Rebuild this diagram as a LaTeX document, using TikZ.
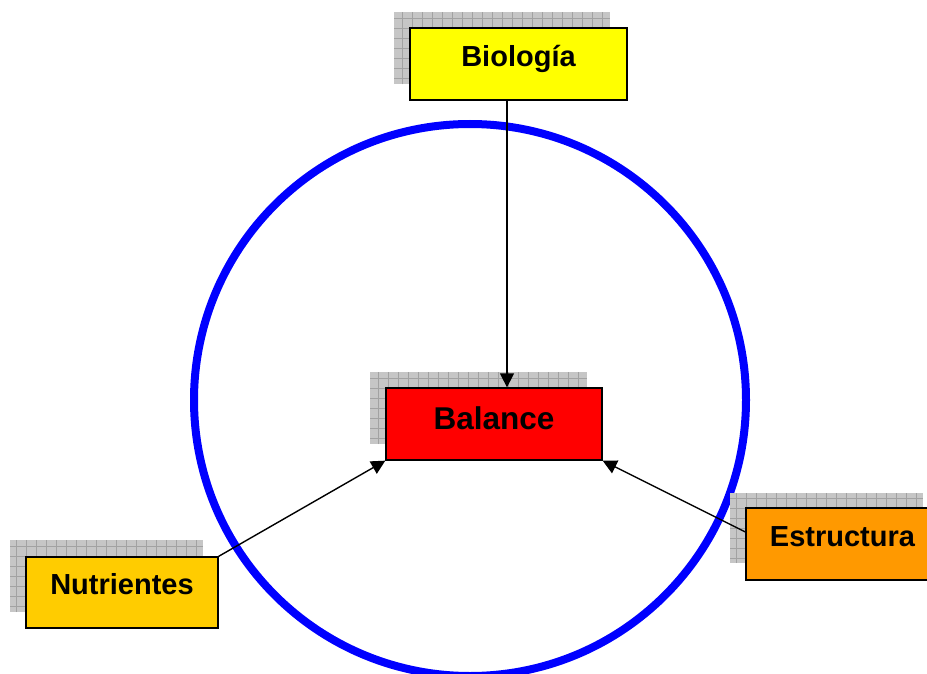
\documentclass[tikz,border=0pt]{standalone}
\usepackage{fontspec}
\setmainfont{Liberation Sans}
\usetikzlibrary{arrows.meta}
\definecolor{shadowfill}{HTML}{C6C6C6}
\definecolor{shadowline}{HTML}{A2A2A2}
\definecolor{bioyellow}{HTML}{FFFF00}
\definecolor{balred}{HTML}{FF0000}
\definecolor{nutgold}{HTML}{FFCC00}
\definecolor{estorange}{HTML}{FF9900}
\definecolor{ringblue}{HTML}{0000FF}
\begin{document}
\begin{tikzpicture}[x=1pt,y=-1pt,
  box/.style={draw=black, line width=1.3pt, inner sep=0pt, minimum height=72pt},
  lbl/.style={font=\fontsize{29}{34}\selectfont\bfseries, inner sep=0pt, anchor=base},
  link/.style={draw=black, line width=1.4pt, -{Triangle[length=14pt,width=14pt]}},
  shadowbox/.style={fill=shadowfill, draw=none, inner sep=0pt, minimum height=72pt,
    path picture={\draw[shadowline, line width=0.9pt, step=10pt]
      (path picture bounding box.south west) grid (path picture bounding box.north east);}}]
\useasboundingbox (0,0) rectangle (927,674);
\fill[white] (0,0) rectangle (927,674);
\draw[ringblue, line width=8pt] (470,400) circle[radius=276pt];

% shadows
\node[shadowbox, minimum width=216pt] (bioS) at (502,48.5) {};
\node[shadowbox, minimum width=217pt] (balS) at (478.5,408) {};
\node[shadowbox, minimum width=193pt] (nutS) at (106.5,576) {};
\node[shadowbox, minimum width=193pt, minimum height=70pt] (estS) at (826.5,528) {};

% boxes
\node[box, fill=bioyellow, minimum width=217pt] (bio) at (518.5,64) {};
\node[box, fill=balred, minimum width=216pt] (bal) at (494,424) {};
\node[box, fill=nutgold, minimum width=192pt, minimum height=71pt] (nut) at (122,592.5) {};
\node[box, fill=estorange, minimum width=193pt] (est) at (842.5,544) {};

% labels
\node[lbl] (bioT) at ([yshift=-3pt]bio.center) {Biología};
\node[lbl, font=\fontsize{31.5}{36}\selectfont\bfseries] (balT) at ([yshift=-5pt]bal.center) {Balance};
\node[lbl] (nutT) at ([yshift=-2pt]nut.center) {Nutrientes};
\node[lbl] (estT) at ([yshift=-2pt]est.center) {Estructura};

% connectors
\coordinate (vx) at (507,0);
\draw[link] (bio.south -| vx) -- (bal.north -| vx);
\draw[link] (nut.north east) -- (bal.south west);
\draw[link] ([yshift=12pt]est.west) -- (bal.south east);
\end{tikzpicture}
\end{document}
